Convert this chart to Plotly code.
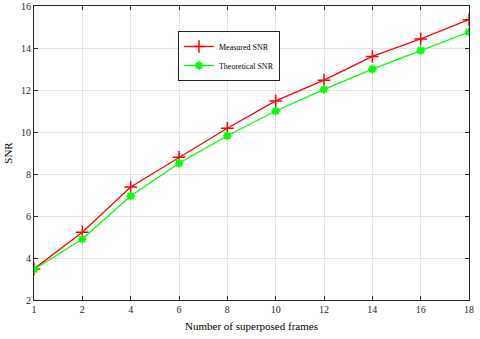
import plotly.graph_objects as go

frames = ["1", "2", "4", "6", "8", "10", "12", "14", "16", "18"]
measured_snr = [3.48, 5.23, 7.38, 8.8, 10.18, 11.48, 12.47, 13.6, 14.43, 15.35]
theoretical_snr = [3.45, 4.9, 6.95, 8.51, 9.82, 11.0, 12.03, 12.99, 13.88, 14.76]

FONT = "Liberation Serif"

fig = go.Figure()

fig.add_trace(go.Scatter(
    x=frames, y=measured_snr,
    name="Measured SNR",
    mode="lines+markers",
    line=dict(color="#ff0000", width=1.3),
    marker=dict(symbol="cross-thin-open", size=9, line=dict(color="#ff0000", width=1.5)),
))
fig.add_trace(go.Scatter(
    x=frames, y=theoretical_snr,
    name="Theoretical SNR",
    mode="lines+markers",
    line=dict(color="#00ff00", width=1.3),
    marker=dict(symbol="asterisk-open", size=7, line=dict(color="#00ff00", width=2)),
))

axis_style = dict(
    showline=True, linecolor="#262626", linewidth=1, mirror="ticks",
    ticks="inside", ticklen=4, tickcolor="#262626",
    showgrid=True, gridcolor="#e3e3e3", gridwidth=1,
    zeroline=False, automargin=False,
    tickfont=dict(family=FONT, size=10, color="#262626"),
)

fig.update_xaxes(
    type="category", range=[0, 9],
    title=dict(text="Number of superposed frames", font=dict(family=FONT, size=11, color="#000"), standoff=8),
    **axis_style,
)
fig.update_yaxes(
    range=[2, 16], dtick=2,
    title=dict(text="SNR", font=dict(family=FONT, size=11, color="#000"), standoff=6),
    **axis_style,
)

fig.update_layout(
    width=480, height=339,
    paper_bgcolor="white", plot_bgcolor="white",
    margin=dict(l=34, r=11, t=6, b=39),
    font=dict(family=FONT, color="#000"),
    showlegend=True,
    legend=dict(
        x=0.331, y=0.915, xanchor="left", yanchor="top",
        bgcolor="white", bordercolor="#262626", borderwidth=1,
        font=dict(family=FONT, size=8, color="#000"),
        tracegroupgap=0, itemwidth=30,
    ),
)

# page body has a default margin; drop it so the figure sits at the window's corner
fig.write_html("out.html", config={"displayModeBar": False},
               post_script="document.body.style.margin='0';")
